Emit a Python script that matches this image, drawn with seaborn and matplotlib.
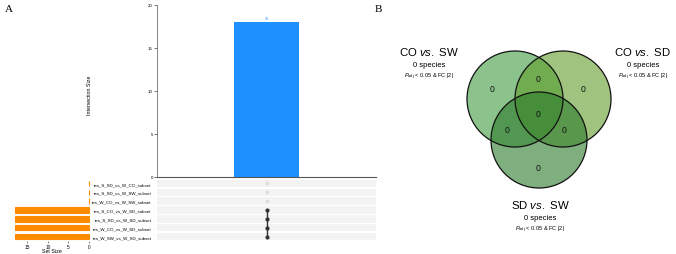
import numpy as np
import pandas as pd
import seaborn as sns
import matplotlib.pyplot as plt
from matplotlib.patches import Circle

# --- data -------------------------------------------------------------
set_names = ['res_S_SD_vs_W_CO_subset', 'res_S_SD_vs_W_SW_subset', 'res_W_CO_vs_W_SW_subset',
             'res_S_CO_vs_W_SD_subset', 'res_S_SD_vs_W_SD_subset', 'res_W_CO_vs_W_SD_subset',
             'res_W_SW_vs_W_SD_subset']
set_sizes = [0, 0, 0, 18, 18, 18, 18]
intersection_ids = ['i1']
intersection_sizes = [18]
membership = [0, 0, 0, 1, 1, 1, 1]

venn_titles = ['CO vs. SW', 'CO vs. SD', 'SD vs. SW']
venn_species = [0, 0, 0]
# region counts: only1, 1&2, only2, 1&2&3, 1&3, 2&3, only3
venn_regions = ['100', '110', '010', '111', '101', '011', '001']
venn_counts = [0, 0, 0, 0, 0, 0, 0]

plt.rcParams['font.family'] = ['Liberation Sans', 'DejaVu Sans']
plt.rcParams['mathtext.fontset'] = 'custom'
plt.rcParams['mathtext.rm'] = 'Liberation Sans'
plt.rcParams['mathtext.it'] = 'Liberation Sans:italic'

W, H = 676, 255
fig = plt.figure(figsize=(W / 100, H / 100), dpi=100)


def px(x0, y0, x1, y1):
    return [x0 / W, 1 - y1 / H, (x1 - x0) / W, (y1 - y0) / H]


# --- intersection bars ------------------------------------------------
ax_bar = fig.add_axes(px(157, 6, 376, 178))
sns.barplot(x=intersection_ids, y=intersection_sizes, color='#1e90ff', width=0.3,
            saturation=1, ax=ax_bar)
ax_bar.set_xlim(-0.5, 0.5)
ax_bar.set_ylim(0, 20)
ax_bar.set_yticks([0, 5, 10, 15, 20])
ax_bar.tick_params(axis='y', labelsize=3.2, length=2, width=0.5, pad=1, color='#444444')
ax_bar.set_xticks([])
ax_bar.set_xlabel('')
ax_bar.set_ylabel('Intersection Size', fontsize=3.8)
ax_bar.yaxis.set_label_coords(-0.297, 0.48)
for s in ['top', 'right']:
    ax_bar.spines[s].set_visible(False)
ax_bar.spines['left'].set_linewidth(0.5)
ax_bar.spines['bottom'].set_linewidth(0.8)
ax_bar.spines['bottom'].set_color('#555555')
ax_bar.spines['left'].set_color('#555555')
for i, v in enumerate(intersection_sizes):
    ax_bar.text(i, v + 0.3, str(v), ha='center', va='bottom', fontsize=2.5, color='#1e90ff')

# --- matrix -------------------------------------------------------------
ax_mat = fig.add_axes(px(157, 180, 376, 242))
n = len(set_names)
for i in range(n):
    ax_mat.axhspan(i - 0.42, i + 0.42, color='#f3f3f3', lw=0, zorder=0)
mat = pd.DataFrame({'x': [0] * n, 'y': range(n), 'on': membership})
sns.scatterplot(data=mat[mat.on == 0], x='x', y='y', color='#dddddd', s=7,
                linewidth=0, ax=ax_mat, zorder=3)
active = mat[mat.on == 1]
sns.lineplot(data=active, x='x', y='y', color='#333333', lw=1.0, sort=False,
             estimator=None, ax=ax_mat, zorder=2)
sns.scatterplot(data=active, x='x', y='y', color='#333333', s=9,
                linewidth=0, ax=ax_mat, zorder=3)
ax_mat.set_xlim(-0.5, 0.5)
ax_mat.set_ylim(n - 0.5, -0.5)
ax_mat.set_yticks(range(n))
ax_mat.set_yticklabels(set_names, fontsize=3.2)
ax_mat.tick_params(axis='y', length=0, pad=4)
ax_mat.set_xticks([])
ax_mat.set_xlabel('')
ax_mat.set_ylabel('')
for s in ax_mat.spines.values():
    s.set_visible(False)

# --- set sizes -------------------------------------------------------------
ax_set = fig.add_axes(px(14, 180, 89, 242))
sns.barplot(x=set_sizes, y=set_names, orient='h', color='#ff8c00', saturation=1,
            width=0.6, edgecolor='#ff8c00', linewidth=0.8, ax=ax_set)
for p in ax_set.patches:
    p.set_clip_on(False)
ax_set.set_xlim(18.2, 0)
ax_set.set_ylim(n - 0.5, -0.5)
ax_set.set_xticks([15, 10, 5, 0])
ax_set.tick_params(axis='x', labelsize=3.4, length=1.5, width=0.5, pad=1, color='#555555')
ax_set.set_yticks([])
ax_set.set_ylabel('')
ax_set.set_xlabel('Set Size', fontsize=3.8)
ax_set.xaxis.set_label_coords(0.5, -0.12)
ax_set.xaxis.label.set_va('top')
for s in ax_set.spines.values():
    s.set_visible(False)

# --- venn -------------------------------------------------------------------
ax_v = fig.add_axes([380 / W, 0, 296 / W, 1])
ax_v.set_xlim(380, 676)
ax_v.set_ylim(255, 0)
ax_v.axis('off')
centers = [(515, 100), (563, 100), (539, 141)]
fills = ['#3f9b3f', '#619d2a', '#2a7a2a']
for (cx, cy), c in zip(centers, fills):
    ax_v.add_patch(Circle((cx, cy), 48, facecolor=c, alpha=0.6, edgecolor='none'))
for cx, cy in centers:
    ax_v.add_patch(Circle((cx, cy), 48, facecolor='none', edgecolor='#111111', lw=0.9))

label_pos = {'100': (492.5, 89.5), '110': (538.5, 79.5), '010': (583.5, 89.5),
             '111': (538.5, 114.5), '101': (507.5, 131), '011': (564.5, 131),
             '001': (538.5, 168.5)}
for key, cnt in zip(venn_regions, venn_counts):
    x, y = label_pos[key]
    ax_v.text(x, y, str(cnt), ha='center', va='center', fontsize=6.2, color='#111111')

title_pos = [(429, 52), (643, 52), (540, 205)]
for (x, y), t, sp in zip(title_pos, venn_titles, venn_species):
    a, b = t.split(' vs. ')
    ax_v.text(x, y, a + r' $\mathit{vs.}$ ' + b, ha='center', va='center', fontsize=8.2)
    ax_v.text(x, y + 14, f'{sp} species', ha='center', va='center', fontsize=5.5)
    ax_v.text(x, y + 24.5, r'$P_\mathrm{adj}$ < 0.05 & FC |2|', ha='center', va='center',
              fontsize=4.1)

fig.text(5 / W, 1 - 9 / H, 'A', fontsize=8, family='Liberation Serif', va='center')
fig.text(375 / W, 1 - 9 / H, 'B', fontsize=8, family='Liberation Serif', va='center')

fig.savefig('out.png', dpi=100)
